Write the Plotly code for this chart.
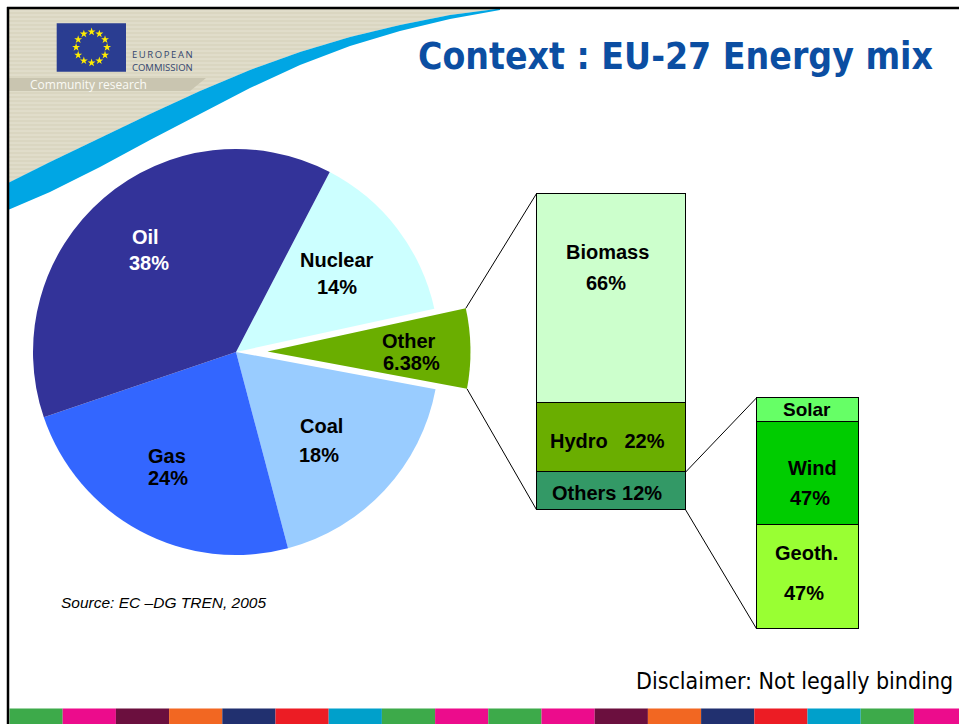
import math
import plotly.graph_objects as go

W, H = 959, 724

# ---------------- data ----------------
mix_labels = ["Nuclear", "Other", "Coal", "Gas", "Oil"]
mix_values = [14, 6.38, 18, 24, 38]
mix_text = ["14%", "6.38%", "18%", "24%", "38%"]
mix_colors = ["#CCFFFF", "#6AAE00", "#99CCFF", "#3366FF", "#333399"]

other_labels = ["Others", "Hydro", "Biomass"]          # bottom -> top
other_values = [12, 22, 66]
other_text = ["12%", "22%", "66%"]
other_colors = ["#339966", "#6AAE00", "#CCFFCC"]

renew_labels = ["Geoth.", "Wind", "Solar"]             # bottom -> top
renew_values = [47, 47, 11]                            # solar height
renew_text = ["47%", "47%", ""]
renew_colors = ["#99FF33", "#00CC00", "#66FF66"]

stripe_colors = ["#3DAA4A", "#EC0C8C", "#6B0F3E", "#F26722", "#21306F", "#EC1C24",
                 "#00A0CB", "#3DAA4A", "#EC0C8C", "#3DAA4A", "#EC0C8C", "#6B0F3E",
                 "#F26722", "#21306F", "#EC1C24", "#00A0CB", "#3DAA4A", "#EC0C8C"]

# ---------------- layout constants (pixels) ----------------
ARIAL = "Liberation Sans, Arial, sans-serif"
TAHOMA = "DejaVu Sans Condensed, DejaVu Sans, sans-serif"

PIE_CX, PIE_CY, PIE_R, PIE_PULL, PIE_ROT = 236, 352, 203, 0.155, 27.5
BAR1 = dict(x0=536.7, x1=685.7, top=193.3, bottom=510.0)
BAR2 = dict(x0=756.7, x1=859.0, top=397.7, bottom=629.0)
PAD = 1.5

pie_label_pos = {
    "Oil": ((145, 237), (149, 263), "white"),
    "Nuclear": ((337, 260), (337, 287), "black"),
    "Other": ((409, 341), (411, 363), "black"),
    "Coal": ((321, 426), (319, 455), "black"),
    "Gas": ((167, 456), (168, 478), "black"),
}


def X(px):
    return px / W


def Y(py):
    return 1 - py / H


fig = go.Figure()

# ---------------- pie ----------------
R_box = PIE_R * (1 + PIE_PULL)
pulls = [PIE_PULL if l == "Other" else 0 for l in mix_labels]
fig.add_trace(go.Pie(
    labels=mix_labels, values=mix_values, sort=False, direction="clockwise",
    rotation=PIE_ROT, pull=pulls, textinfo="none", hoverinfo="skip",
    marker=dict(colors=mix_colors, line=dict(width=0)),
    domain=dict(x=[X(PIE_CX - R_box), X(PIE_CX + R_box)],
                y=[Y(PIE_CY + R_box), Y(PIE_CY - R_box)]),
    showlegend=False,
))

# ---------------- stacked bars ----------------
def add_stack(labels, values, colors, xa, ya):
    for l, v, c in zip(labels, values, colors):
        fig.add_trace(go.Bar(x=[0], y=[v], width=1, name=l,
                             marker=dict(color=c, line=dict(color="black", width=1.2)),
                             xaxis=xa, yaxis=ya, hoverinfo="skip", showlegend=False))


add_stack(other_labels, other_values, other_colors, "x", "y")
add_stack(renew_labels, renew_values, renew_colors, "x2", "y2")


def axes_for(b, total):
    bw = b["x1"] - b["x0"]
    bh = b["bottom"] - b["top"]
    xa = dict(domain=[X(b["x0"] - PAD), X(b["x1"] + PAD)],
              range=[-0.5 - PAD / bw, 0.5 + PAD / bw], visible=False, fixedrange=True)
    ya = dict(domain=[Y(b["bottom"] + PAD), Y(b["top"] - PAD)],
              range=[-PAD * total / bh, total + PAD * total / bh], visible=False, fixedrange=True)
    return xa, ya


tot1, tot2 = sum(other_values), sum(renew_values)
xa1, ya1 = axes_for(BAR1, tot1)
xa2, ya2 = axes_for(BAR2, tot2)


def ypix(b, total, v):
    return b["bottom"] - v / total * (b["bottom"] - b["top"])


# ---------------- stars of the logo (pixel overlay axes) ----------------
star_cx, star_cy, star_r = 91.6, 47.3, 15.5
sx = [star_cx + star_r * math.sin(2 * math.pi * k / 12) for k in range(12)]
sy = [star_cy - star_r * math.cos(2 * math.pi * k / 12) for k in range(12)]
fig.add_trace(go.Scatter(x=sx, y=sy, mode="markers", xaxis="x3", yaxis="y3",
                         marker=dict(symbol="star", size=6, color="#FFED00", line=dict(width=0)),
                         hoverinfo="skip", showlegend=False))

# ---------------- shapes ----------------
shapes = []


def path(points):
    return "M " + " L ".join(f"{X(x):.5f},{Y(y):.5f}" for x, y in points) + " Z"


upper = [(500, 8.5), (450, 15), (400, 25), (350, 37), (300, 52), (250, 70), (200, 91),
         (150, 114), (100, 138), (50, 162), (8, 183)]
lower = [(8, 210), (50, 192), (100, 167), (150, 140), (200, 114), (250, 88), (300, 65),
         (350, 46), (400, 31), (450, 19), (500, 10)]

# beige header background
shapes.append(dict(type="path", xref="paper", yref="paper", layer="below",
                   path=path([(8, 8)] + upper), fillcolor="#DAD6C1", line=dict(width=0)))
# faint horizontal stripes on beige
for yy in range(11, 183, 4):
    xe = 8
    for (xa_, ya_), (xb_, yb_) in zip(upper[:-1], upper[1:]):
        if ya_ <= yy <= yb_:
            xe = xa_ + (yy - ya_) / (yb_ - ya_) * (xb_ - xa_)
            break
    shapes.append(dict(type="line", xref="paper", yref="paper", layer="below",
                       x0=X(8), x1=X(xe), y0=Y(yy), y1=Y(yy),
                       line=dict(color="#E6E3D3", width=1)))
# blue swoosh
shapes.append(dict(type="path", xref="paper", yref="paper", layer="below",
                   path=path(upper + lower), fillcolor="#00A6E4", line=dict(width=0)))
# grey band under logo
shapes.append(dict(type="path", xref="paper", yref="paper", layer="below",
                   path=path([(8, 78), (206, 78), (190, 91), (8, 91)]),
                   fillcolor="#C9C5B0", line=dict(width=0)))
# EU flag
shapes.append(dict(type="rect", xref="paper", yref="paper", layer="below",
                   x0=X(56.7), x1=X(126), y0=Y(71.7), y1=Y(23.3),
                   fillcolor="#2A3D91", line=dict(width=0)))
# frame
shapes.append(dict(type="line", xref="paper", yref="paper", x0=X(8), x1=X(8), y0=Y(7), y1=Y(724),
                   line=dict(color="black", width=2.5)))
shapes.append(dict(type="line", xref="paper", yref="paper", x0=X(7), x1=X(959), y0=Y(8), y1=Y(8),
                   line=dict(color="black", width=2.5)))
# bottom colour stripe
seg_w = 53.2
for i, c in enumerate(stripe_colors):
    shapes.append(dict(type="rect", xref="paper", yref="paper", layer="below",
                       x0=X(9.5 + i * seg_w), x1=X(min(W, 9.5 + (i + 1) * seg_w)),
                       y0=Y(724), y1=Y(708.5), fillcolor=c, line=dict(width=0)))

# connectors from the pulled "Other" slice to bar 1
total_mix = sum(mix_values)
i_other = mix_labels.index("Other")
a0 = math.radians(PIE_ROT + 360 * sum(mix_values[:i_other]) / total_mix)
a1 = a0 + math.radians(360 * mix_values[i_other] / total_mix)
am = (a0 + a1) / 2
ox = PIE_CX + PIE_PULL * PIE_R * math.sin(am)
oy = PIE_CY - PIE_PULL * PIE_R * math.cos(am)
p_top = (ox + PIE_R * math.sin(a0), oy - PIE_R * math.cos(a0))
p_bot = (ox + PIE_R * math.sin(a1), oy - PIE_R * math.cos(a1))
b1_top = (BAR1["x0"], ypix(BAR1, tot1, tot1))
b1_bot = (BAR1["x0"], ypix(BAR1, tot1, 0))
# connectors from "Others" segment to bar 2
o_top = (BAR1["x1"], ypix(BAR1, tot1, other_values[0]))
o_bot = (BAR1["x1"], ypix(BAR1, tot1, 0))
b2_top = (BAR2["x0"], ypix(BAR2, tot2, tot2))
b2_bot = (BAR2["x0"], ypix(BAR2, tot2, 0))
for (xa_, ya_), (xb_, yb_) in [(p_top, b1_top), (p_bot, b1_bot), (o_top, b2_top), (o_bot, b2_bot)]:
    shapes.append(dict(type="line", xref="paper", yref="paper",
                       x0=X(xa_), y0=Y(ya_), x1=X(xb_), y1=Y(yb_),
                       line=dict(color="black", width=1)))

# ---------------- annotations ----------------
anns = []


def ann(text, x, y, size, color="black", family=ARIAL, xanchor="center"):
    anns.append(dict(text=text, x=X(x), y=Y(y), xref="paper", yref="paper",
                     xanchor=xanchor, yanchor="middle", showarrow=False,
                     font=dict(size=size, color=color, family=family)))


for lab, pct in zip(mix_labels, mix_text):
    (nx, ny), (tx, ty), col = pie_label_pos[lab]
    ann(f"<b>{lab}</b>", nx, ny, 20, col)
    ann(f"<b>{pct}</b>", tx, ty, 20, col)

# bar 1 labels
NB = "\u00a0"
ann(f"<b>{other_labels[2]}</b>", 607, 252, 20)
ann(f"<b>{other_text[2]}</b>", 606, 283, 20)
ann(f"<b>{other_labels[1]}{NB * 3}{other_text[1]}</b>", 607, 441, 20)
ann(f"<b>{other_labels[0]} {other_text[0]}</b>", 607, 493, 20)
# bar 2 labels
ann(f"<b>{renew_labels[2]}</b>", 807, 409, 19)
ann(f"<b>{renew_labels[1]}</b>", 812, 468, 20)
ann(f"<b>{renew_text[1]}</b>", 810, 498, 20)
ann(f"<b>{renew_labels[0]}</b>", 806, 553, 20)
ann(f"<b>{renew_text[0]}</b>", 804, 593, 20)

# title, source, disclaimer
ann("<b>Context : EU-27 Energy mix</b>", 675, 57, 37, "#0B4EA2", TAHOMA)
ann("<i>Source: EC –DG TREN, 2005</i>", 59, 602, 15.5, "black", ARIAL, "left")
ann("Disclaimer: Not legally binding", 955, 681, 23, "black", TAHOMA, "right")
# logo texts
ann("E\u2009U\u2009R\u2009O\u2009P\u2009E\u2009A\u2009N", 130, 54.5, 9.5, "#34466F", "Open Sans, sans-serif", "left")
ann("COMMISSION", 130, 67.5, 9.5, "#34466F", "Open Sans, sans-serif", "left")
ann("Community research", 28, 84.5, 12, "#FAFAF5", "Open Sans, sans-serif", "left")

fig.update_layout(
    width=W, height=H, margin=dict(l=0, r=0, t=0, b=0),
    paper_bgcolor="white", plot_bgcolor="rgba(0,0,0,0)",
    barmode="stack", bargap=0,
    xaxis=xa1, yaxis=ya1,
    xaxis2={**xa2, "anchor": "y2"}, yaxis2={**ya2, "anchor": "x2"},
    xaxis3=dict(domain=[0, 1], range=[0, W], visible=False, anchor="y3", fixedrange=True),
    yaxis3=dict(domain=[0, 1], range=[H, 0], visible=False, anchor="x3", fixedrange=True),
    shapes=shapes, annotations=anns, showlegend=False,
)

fig.write_html("out.html", config={"displayModeBar": False},
               post_script="document.body.style.margin='0';document.body.style.overflow='hidden';")
